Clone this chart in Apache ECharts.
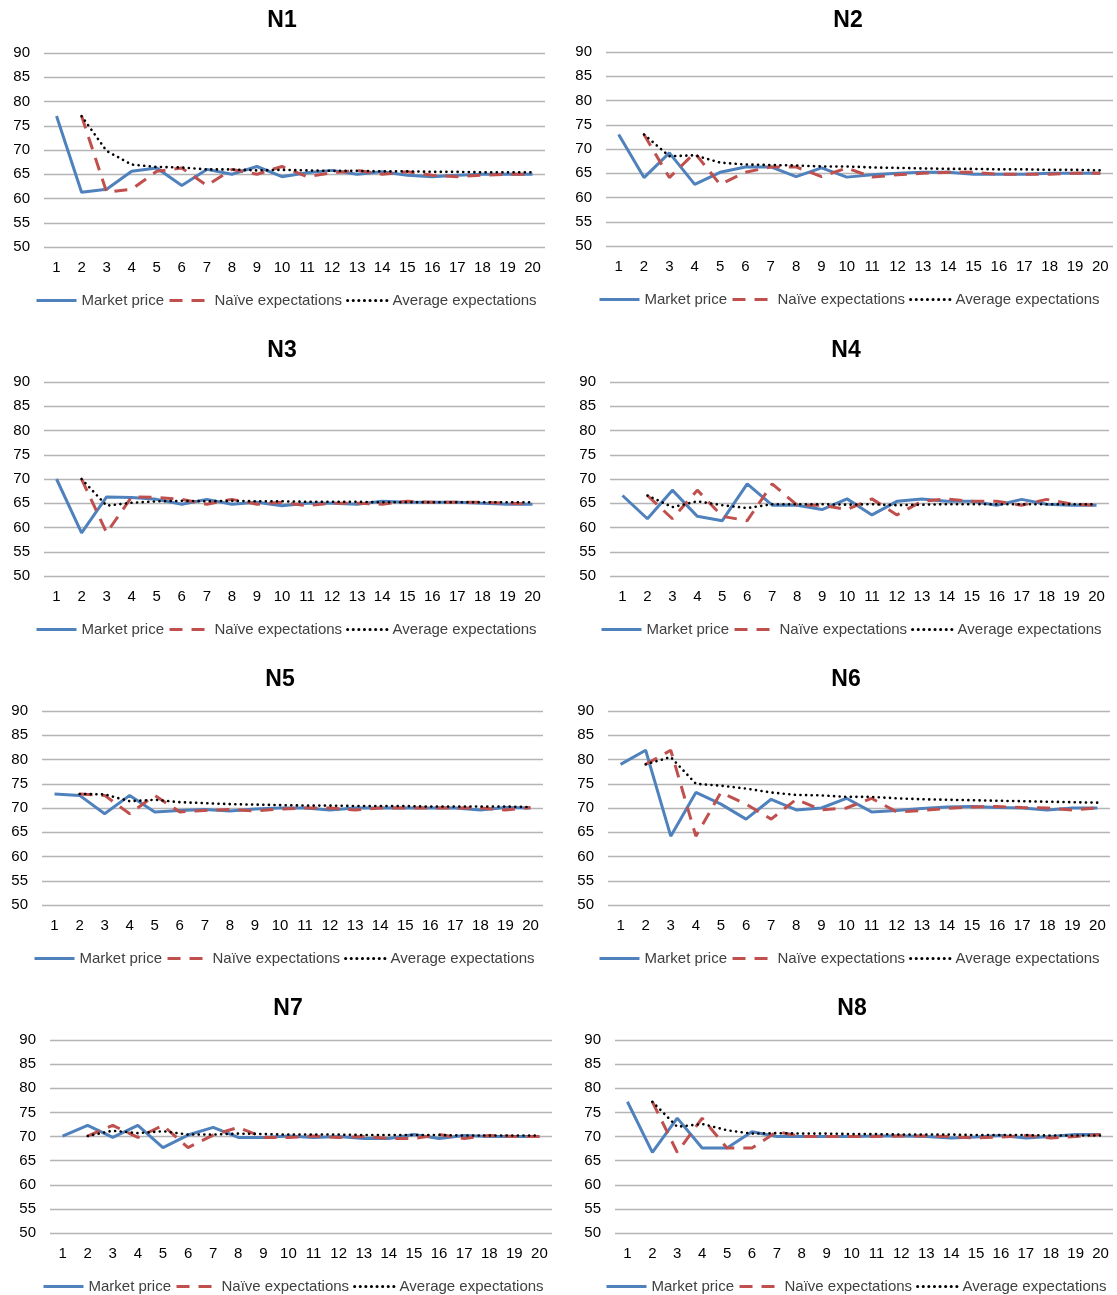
<!DOCTYPE html>
<html>
<head>
<meta charset="utf-8">
<script src="https://cdn.jsdelivr.net/npm/echarts@6/dist/echarts.min.js"></script>
<style>
  html, body { margin: 0; padding: 0; background: #fff; }
  #chart { width: 1117px; height: 1295px; }
</style>
</head>
<body>
<div id="chart"></div>
<script>
const periods = ["1","2","3","4","5","6","7","8","9","10","11","12","13","14","15","16","17","18","19","20"];
const seriesNames = ["Market price", "Naïve expectations", "Average expectations"];
const panelTitles = ["N1", "N2", "N3", "N4", "N5", "N6", "N7", "N8"];

// N1
const n1Price = [77, 61.3, 61.9, 65.6, 66.3, 62.7, 66.0, 65.0, 66.6, 64.5, 65.3, 65.8, 65.0, 65.5, 64.8, 64.5, 64.8, 65.0, 65.0, 65.0];
const n1Naive = [null, 77, 61.3, 61.9, 65.6, 66.3, 62.7, 66.0, 65.0, 66.6, 64.5, 65.3, 65.8, 65.0, 65.5, 64.8, 64.5, 64.8, 65.0, 65.0];
const n1Avg = [null, 77, 69.8, 67.0, 66.5, 66.4, 66.0, 66.0, 65.8, 65.9, 65.8, 65.7, 65.7, 65.6, 65.6, 65.5, 65.5, 65.4, 65.4, 65.4];
// N2
const n2Price = [73, 64.1, 69.2, 62.7, 65.2, 66.3, 66.3, 64.3, 66.1, 64.2, 64.7, 65.0, 65.2, 65.2, 64.8, 64.8, 64.8, 65.0, 65.0, 65.0];
const n2Naive = [null, 73, 64.1, 69.2, 62.7, 65.2, 66.3, 66.3, 64.3, 66.1, 64.2, 64.7, 65.0, 65.2, 65.2, 64.8, 64.8, 64.8, 65.0, 65.0];
const n2Avg = [null, 73, 68.5, 68.7, 67.2, 66.8, 66.7, 66.6, 66.4, 66.4, 66.2, 66.1, 66.0, 65.9, 65.9, 65.8, 65.8, 65.7, 65.7, 65.6];
// N3
const n3Price = [70, 58.9, 66.3, 66.2, 65.8, 64.8, 65.8, 64.8, 65.2, 64.5, 65.0, 65.0, 64.8, 65.4, 65.2, 65.2, 65.2, 65.0, 64.8, 64.8];
const n3Naive = [null, 70, 58.9, 66.3, 66.2, 65.8, 64.8, 65.8, 64.8, 65.2, 64.5, 65.0, 65.0, 64.8, 65.4, 65.2, 65.2, 65.2, 65.0, 64.8];
const n3Avg = [null, 70, 64.5, 65.1, 65.4, 65.5, 65.4, 65.5, 65.4, 65.4, 65.3, 65.3, 65.3, 65.2, 65.2, 65.2, 65.2, 65.2, 65.2, 65.2];
// N4
const n4Price = [66.6, 61.8, 67.7, 62.3, 61.4, 69.0, 64.6, 64.6, 63.7, 65.9, 62.6, 65.4, 65.9, 65.4, 65.4, 64.6, 65.8, 64.8, 64.6, 64.6];
const n4Naive = [null, 66.6, 61.8, 67.7, 62.3, 61.4, 69.0, 64.6, 64.6, 63.7, 65.9, 62.6, 65.4, 65.9, 65.4, 65.4, 64.6, 65.8, 64.8, 64.6];
const n4Avg = [null, 66.6, 64.2, 65.4, 64.6, 64.0, 64.8, 64.8, 64.8, 64.7, 64.8, 64.6, 64.7, 64.8, 64.8, 64.8, 64.8, 64.8, 64.8, 64.8];
// N5
const n5Price = [72.9, 72.6, 68.8, 72.6, 69.2, 69.5, 69.7, 69.4, 69.8, 70.0, 70.0, 69.6, 70.0, 70.0, 70.0, 70.0, 70.0, 69.6, 70.1, 70.0];
const n5Naive = [null, 72.9, 72.6, 68.8, 72.6, 69.2, 69.5, 69.7, 69.4, 69.8, 70.0, 70.0, 69.6, 70.0, 70.0, 70.0, 70.0, 70.0, 69.6, 70.1];
const n5Avg = [null, 72.9, 72.8, 71.4, 71.7, 71.2, 71.0, 70.8, 70.7, 70.6, 70.5, 70.5, 70.4, 70.4, 70.4, 70.3, 70.3, 70.3, 70.3, 70.2];
// N6
const n6Price = [79, 81.9, 64.2, 73.2, 70.8, 67.7, 71.8, 69.6, 70.0, 72.0, 69.2, 69.5, 69.9, 70.2, 70.3, 70.1, 70.0, 69.6, 70.0, 70.0];
const n6Naive = [null, 79, 81.9, 64.2, 73.2, 70.8, 67.7, 71.8, 69.6, 70.0, 72.0, 69.2, 69.5, 69.9, 70.2, 70.3, 70.1, 70.0, 69.6, 70.0];
const n6Avg = [null, 79, 80.5, 75.0, 74.6, 74.0, 73.2, 72.7, 72.6, 72.3, 72.3, 72.0, 71.8, 71.7, 71.6, 71.5, 71.4, 71.3, 71.2, 71.1];
// N7
const n7Price = [70.1, 72.3, 69.8, 72.3, 67.7, 70.3, 71.9, 69.8, 69.8, 70.1, 69.8, 70.0, 69.6, 69.6, 70.4, 69.6, 70.2, 70.0, 70.0, 70.0];
const n7Naive = [null, 70.1, 72.3, 69.8, 72.3, 67.7, 70.3, 71.9, 69.8, 69.8, 70.1, 69.8, 70.0, 69.6, 69.6, 70.4, 69.6, 70.2, 70.0, 70.0];
const n7Avg = [null, 70.1, 71.2, 70.7, 71.1, 70.4, 70.4, 70.6, 70.5, 70.4, 70.4, 70.4, 70.3, 70.3, 70.3, 70.3, 70.2, 70.2, 70.2, 70.2];
// N8
const n8Price = [77.2, 66.7, 73.8, 67.6, 67.6, 71.0, 70.0, 70.0, 70.0, 70.0, 70.1, 70.1, 70.0, 69.7, 69.9, 70.2, 69.7, 70.0, 70.4, 70.4];
const n8Naive = [null, 77.2, 66.7, 73.8, 67.6, 67.6, 71.0, 70.0, 70.0, 70.0, 70.0, 70.1, 70.1, 70.0, 69.7, 69.9, 70.2, 69.7, 70.0, 70.4];
const n8Avg = [null, 77.2, 72.0, 72.6, 71.3, 70.6, 70.7, 70.6, 70.6, 70.5, 70.5, 70.4, 70.4, 70.4, 70.3, 70.3, 70.3, 70.2, 70.2, 70.2];

const panels = [
  [n1Price, n1Naive, n1Avg],
  [n2Price, n2Naive, n2Avg],
  [n3Price, n3Naive, n3Avg],
  [n4Price, n4Naive, n4Avg],
  [n5Price, n5Naive, n5Avg],
  [n6Price, n6Naive, n6Avg],
  [n7Price, n7Naive, n7Avg],
  [n8Price, n8Naive, n8Avg]
];

// layout per panel: grid left, width, top, height, title x/y, legend left/top
const layout = [
  { left: 44, width: 501, top: 53, height: 194, tx: 282, ty: 9, lx: 35, ly: 293 },
  { left: 606, width: 507, top: 52, height: 194, tx: 848, ty: 9, lx: 598, ly: 292 },
  { left: 44, width: 501, top: 382, height: 194, tx: 282, ty: 339, lx: 35, ly: 622 },
  { left: 610, width: 499, top: 382, height: 194, tx: 846, ty: 339, lx: 600, ly: 622 },
  { left: 42, width: 501, top: 711, height: 194, tx: 280, ty: 668, lx: 33, ly: 951 },
  { left: 608, width: 502, top: 711, height: 194, tx: 846, ty: 668, lx: 598, ly: 951 },
  { left: 50, width: 502, top: 1040, height: 193, tx: 288, ty: 997, lx: 42, ly: 1279 },
  { left: 615, width: 498, top: 1040, height: 193, tx: 852, ty: 997, lx: 605, ly: 1279 }
];

const font = "Liberation Sans, Arial, sans-serif";
const colors = ["#4f81bd", "#c0504d", "#000000"];

const option = {
  animation: false,
  backgroundColor: "#fff",
  title: [],
  legend: [],
  grid: [],
  xAxis: [],
  yAxis: [],
  series: []
};

layout.forEach((g, i) => {
  option.title.push({
    text: panelTitles[i],
    left: g.tx,
    top: g.ty,
    padding: 0,
    textAlign: "center",
    textStyle: { fontFamily: font, fontSize: 23, fontWeight: "bold", color: "#000" }
  });
  option.grid.push({ left: g.left, top: g.top, width: g.width, height: g.height, containLabel: false });
  option.xAxis.push({
    type: "category",
    gridIndex: i,
    data: periods,
    boundaryGap: true,
    axisLine: { show: false },
    axisTick: { show: false },
    axisLabel: { fontFamily: font, fontSize: 15, color: "#000", margin: 13, interval: 0 }
  });
  option.yAxis.push({
    type: "value",
    gridIndex: i,
    min: 50,
    max: 90,
    interval: 5,
    axisLine: { show: false },
    axisTick: { show: false },
    axisLabel: { fontFamily: font, fontSize: 15, color: "#000", margin: 14 },
    splitLine: { lineStyle: { color: "#b4b4b4", width: 1.3 } }
  });
  option.legend.push({
    left: g.lx,
    top: g.ly,
    padding: 0,
    data: seriesNames,
    itemWidth: 40,
    itemHeight: 14,
    itemGap: 4,
    selectedMode: false,
    itemStyle: { opacity: 0 },
    lineStyle: { width: 3 },
    textStyle: { fontFamily: font, fontSize: 15, color: "#404040" }
  });
  const vals = panels[i];
  option.series.push(
    {
      name: seriesNames[0], type: "line", xAxisIndex: i, yAxisIndex: i,
      data: vals[0], symbol: "none", showSymbol: false,
      lineStyle: { color: colors[0], width: 3 }, itemStyle: { color: colors[0] }
    },
    {
      name: seriesNames[1], type: "line", xAxisIndex: i, yAxisIndex: i,
      data: vals[1], symbol: "none", showSymbol: false,
      lineStyle: { color: colors[1], width: 3, type: [13, 9] }, itemStyle: { color: colors[1] }
    },
    {
      name: seriesNames[2], type: "line", xAxisIndex: i, yAxisIndex: i,
      data: vals[2], symbol: "none", showSymbol: false, z: 3,
      lineStyle: { color: colors[2], width: 2.6, type: [0.1, 5.5], cap: "round" }, itemStyle: { color: colors[2] }
    }
  );
});

const chart = echarts.init(document.getElementById("chart"), null, { renderer: "canvas" });
chart.setOption(option);
</script>
</body>
</html>
